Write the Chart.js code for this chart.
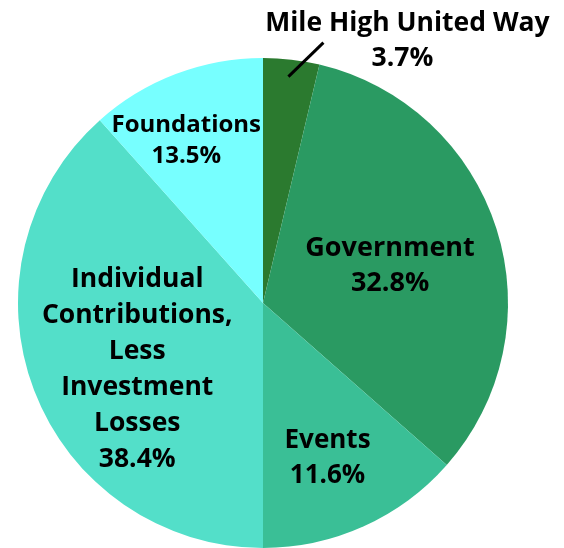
<!DOCTYPE html>
<html>
<head>
<meta charset="utf-8">
<script src="https://cdn.jsdelivr.net/npm/chart.js@4"></script>
<style>
  html, body { margin: 0; padding: 0; background: #fff; }
  #pie { display: block; }
</style>
</head>
<body>
<canvas id="pie" width="564" height="548"></canvas>
<script>
// === Datos ===
const categorias = ['Mile High United Way', 'Government', 'Events', 'Individual Contributions, Less Investment Losses', 'Foundations'];
// tamaño de cada porcion tal como se ve en el grafico
const valores = [3.7, 32.8, 13.5, 38.4, 11.6];
// porcentaje impreso en cada etiqueta (el original lo muestra asi)
const textoPct = ['3.7%', '32.8%', '11.6%', '38.4%', '13.5%'];
const colores = ['#2b7a2f', '#2a9a62', '#3abf96', '#53dfc9', '#77ffff'];

// lineas de cada etiqueta (el texto se parte a mano como en el original)
const etiquetas = [
  ['Mile High United Way'],
  ['Government'],
  ['Events'],
  ['Individual', 'Contributions,', 'Less', 'Investment', 'Losses'],
  ['Foundations']
];

// posicion de la etiqueta: fraccion del radio + ajuste en px, tamaño de letra, interlineado
const posEtiquetas = [
  { frac: 0.93, dx: -1, dy: 0, size: 26.5, alto: 35 },
  { frac: 0.54, dx: 1, dy: 3, size: 27, alto: 35 },
  { frac: 0.68, dx: -4, dy: 3, size: 26, alto: 35 },
  { frac: 0.58, dx: 7, dy: 16, size: 26.5, alto: 36 },
  { frac: 0.73, dx: -13, dy: 5, size: 24, alto: 31 }
];

// === Plugin: etiquetas dentro de las porciones ===
const pluginEtiquetas = {
  id: 'etiquetas',
  afterDatasetsDraw(chart) {
    const ctx = chart.ctx;
    const meta = chart.getDatasetMeta(0);
    ctx.save();
    ctx.fillStyle = '#000';
    ctx.textAlign = 'center';
    ctx.textBaseline = 'middle';

    meta.data.forEach((arc, i) => {
      const p = arc.getProps(['x', 'y', 'startAngle', 'endAngle', 'outerRadius'], true);
      const mid = (p.startAngle + p.endAngle) / 2;
      const conf = posEtiquetas[i];
      const px = p.x + Math.cos(mid) * p.outerRadius * conf.frac + conf.dx;
      const py = p.y + Math.sin(mid) * p.outerRadius * conf.frac + conf.dy;
      const lineas = etiquetas[i].concat([textoPct[i]]);
      ctx.font = 'bold ' + conf.size + 'px "Open Sans"';

      if (i === 0) {
        // porcion pequeña: etiqueta afuera con linea guia
        const ex = px + 35, ey = py - 34;
        ctx.strokeStyle = '#000';
        ctx.lineWidth = 3;
        ctx.beginPath();
        ctx.moveTo(px, py);
        ctx.lineTo(ex, ey);
        ctx.stroke();
        ctx.fillText(lineas[0], ex + 84, ey - 19);
        ctx.fillText(lineas[1], ex + 79, ey + 16);
        return;
      }

      const y0 = py - (lineas.length - 1) * conf.alto / 2;
      lineas.forEach((t, k) => ctx.fillText(t, px, y0 + k * conf.alto));
    });
    ctx.restore();
  }
};

new Chart(document.getElementById('pie'), {
  type: 'pie',
  data: {
    labels: categorias,
    datasets: [{
      data: valores,
      backgroundColor: colores,
      borderWidth: 0
    }]
  },
  options: {
    responsive: false,
    animation: false,
    layout: { padding: { top: 58, left: 18, right: 56, bottom: 0 } },
    plugins: {
      legend: { display: false },
      tooltip: { enabled: false }
    }
  },
  plugins: [pluginEtiquetas]
});
</script>
</body>
</html>
